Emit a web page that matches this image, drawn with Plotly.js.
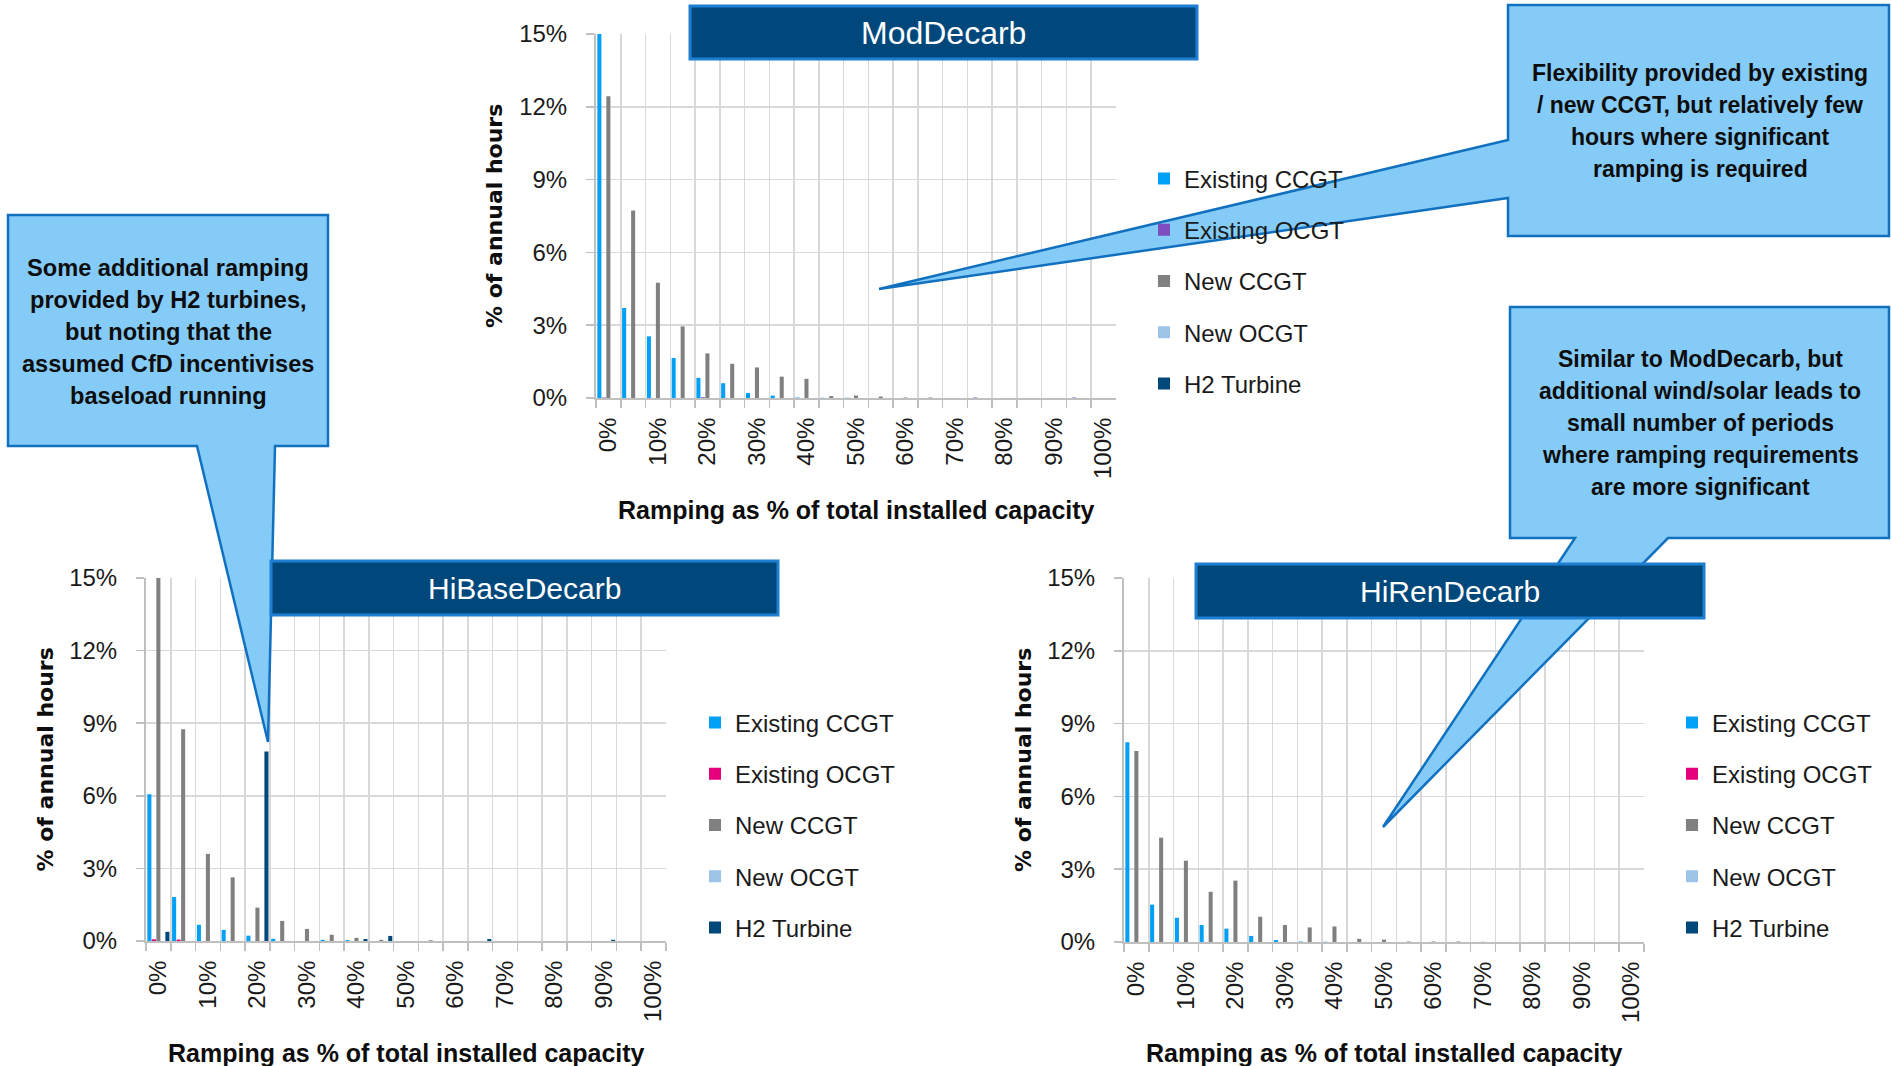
<!DOCTYPE html>
<html>
<head>
<meta charset="utf-8">
<script src="https://cdn.plot.ly/plotly-3.0.1.min.js"></script>
<style>
  html, body { margin: 0; padding: 0; background: #ffffff; }
  #chart { width: 1891px; height: 1066px; }
</style>
</head>
<body>
<div id="chart"></div>
<script>
// ---------------- DATA ----------------
const ramp = ['0%','5%','10%','15%','20%','25%','30%','35%','40%','45%','50%',
              '55%','60%','65%','70%','75%','80%','85%','90%','95%','100%'];
const seriesNames = ['Existing CCGT','Existing OCGT','New CCGT','New OCGT','H2 Turbine'];
const yTickValues = [0, 3, 6, 9, 12, 15];
const scenarioTitles = ['ModDecarb', 'HiBaseDecarb', 'HiRenDecarb'];

// ModDecarb (% of annual hours)
const modExistingCCGT = [15, 3.71, 2.54, 1.65, 0.83, 0.61, 0.21, 0.10, 0.02, 0.01, 0.01, 0, 0, 0, 0, 0, 0, 0, 0, 0, 0];
const modExistingOCGT = [0.02, 0, 0, 0, 0.03, 0, 0, 0, 0, 0, 0, 0, 0, 0, 0, 0.02, 0, 0, 0, 0.02, 0];
const modNewCCGT      = [12.43, 7.73, 4.75, 2.95, 1.84, 1.41, 1.26, 0.88, 0.79, 0.08, 0.10, 0.06, 0.02, 0.02, 0, 0, 0, 0, 0, 0, 0];
const modNewOCGT      = [0, 0, 0, 0, 0, 0, 0, 0, 0, 0, 0, 0, 0, 0, 0, 0, 0, 0, 0, 0, 0];
const modH2Turbine    = [0, 0, 0, 0, 0, 0, 0, 0, 0, 0, 0, 0, 0, 0, 0, 0, 0, 0, 0, 0, 0];

// HiBaseDecarb
const hiBaseExistingCCGT = [6.06, 1.82, 0.67, 0.46, 0.22, 0.09, 0, 0.05, 0.04, 0, 0, 0, 0, 0, 0, 0, 0, 0, 0, 0, 0];
const hiBaseExistingOCGT = [0.07, 0.06, 0, 0, 0, 0, 0, 0, 0, 0, 0, 0, 0, 0, 0, 0, 0, 0, 0, 0, 0];
const hiBaseNewCCGT      = [15, 8.75, 3.60, 2.63, 1.38, 0.83, 0.50, 0.26, 0.13, 0.05, 0, 0.03, 0, 0, 0, 0, 0, 0, 0, 0, 0];
const hiBaseNewOCGT      = [0, 0, 0, 0, 0, 0, 0, 0, 0, 0, 0, 0, 0, 0, 0, 0, 0, 0, 0, 0, 0];
const hiBaseH2Turbine    = [0.38, 0, 0, 0, 7.83, 0, 0, 0, 0.08, 0.21, 0, 0, 0, 0.08, 0, 0, 0, 0, 0.05, 0, 0];

// HiRenDecarb
const hiRenExistingCCGT = [8.23, 1.54, 1.00, 0.70, 0.55, 0.25, 0.08, 0.02, 0.01, 0, 0, 0, 0, 0, 0, 0, 0, 0, 0, 0, 0];
const hiRenExistingOCGT = [0, 0, 0, 0, 0, 0, 0, 0, 0, 0, 0, 0, 0, 0, 0, 0, 0, 0, 0, 0, 0];
const hiRenNewCCGT      = [7.87, 4.30, 3.35, 2.07, 2.53, 1.04, 0.70, 0.60, 0.64, 0.13, 0.10, 0.02, 0.02, 0.02, 0.01, 0, 0, 0, 0, 0, 0];
const hiRenNewOCGT      = [0, 0, 0, 0, 0, 0, 0, 0, 0, 0, 0, 0, 0, 0, 0, 0, 0, 0, 0, 0, 0];
const hiRenH2Turbine    = [0, 0, 0, 0, 0, 0, 0, 0, 0, 0, 0, 0, 0, 0, 0, 0, 0, 0, 0, 0, 0];

const calloutLeft = ['Some additional ramping', 'provided by H2 turbines,', 'but noting that the',
                     'assumed CfD incentivises', 'baseload running'];
const calloutTop = ['Flexibility provided by existing', '/ new CCGT, but relatively few',
                    'hours where significant', 'ramping is required'];
const calloutMid = ['Similar to ModDecarb, but', 'additional wind/solar leads to', 'small number of periods',
                    'where ramping requirements', 'are more significant'];
const xTitle = 'Ramping as % of total installed capacity';
const yTitle = '% of annual hours';

// ---------------- STYLE / LAYOUT HELPERS ----------------
const W = 1891, H = 1066;
const px = x => x / W;
const py = y => 1 - y / H;
const FONT = '"Liberation Sans", Arial, sans-serif';
const FONT_Y = '"DejaVu Sans", Verdana, sans-serif';

const colors = ['#00A0F6', '#E5007D', '#808080', '#9DC3E6', '#00487A'];
const colorsMod = ['#00A0F6', '#7D4CBF', '#808080', '#9DC3E6', '#00487A'];

const rampLabels = ramp.map((r, i) => (i % 2 === 0 ? r : ''));
const yTickText = yTickValues.map(v => v + '%');

const panels = [
  { key: '',  box: {x0: 596,  x1: 1116, y0: 34,  y1: 398}, legend: 'legend',  leg: {x: 1144, y: 156.5},
    data: [modExistingCCGT, modExistingOCGT, modNewCCGT, modNewOCGT, modH2Turbine], cols: colorsMod,
    titleBox: {x0: 690, x1: 1197, y0: 6, y1: 59}, titleSize: 32, yTitleX: 495, xTitleY: 510 },
  { key: '2', box: {x0: 146,  x1: 666,  y0: 578, y1: 941}, legend: 'legend2', leg: {x: 695, y: 700.5},
    data: [hiBaseExistingCCGT, hiBaseExistingOCGT, hiBaseNewCCGT, hiBaseNewOCGT, hiBaseH2Turbine], cols: colors,
    titleBox: {x0: 271, x1: 778, y0: 561, y1: 615}, titleSize: 30, yTitleX: 45, xTitleY: 1053 },
  { key: '3', box: {x0: 1124, x1: 1644, y0: 578, y1: 942}, legend: 'legend3', leg: {x: 1672, y: 700.5},
    data: [hiRenExistingCCGT, hiRenExistingOCGT, hiRenNewCCGT, hiRenNewOCGT, hiRenH2Turbine], cols: colors,
    titleBox: {x0: 1196, x1: 1704, y0: 564, y1: 618}, titleSize: 30, yTitleX: 1023, xTitleY: 1053 }
];

const traces = [];
const layout = {
  width: W, height: H,
  margin: {l: 0, r: 0, t: 0, b: 0, pad: 0},
  paper_bgcolor: '#ffffff', plot_bgcolor: '#ffffff',
  barmode: 'group', bargap: 0.09, bargroupgap: 0.1,
  showlegend: true,
  shapes: [], annotations: []
};

panels.forEach((p, pi) => {
  const xa = 'x' + p.key, ya = 'y' + p.key;
  p.data.forEach((vals, si) => {
    traces.push({
      type: 'bar', name: seriesNames[si], x: ramp, y: vals,
      xaxis: xa, yaxis: ya, legend: p.legend,
      legendgroup: 'g' + pi + '_' + si,
      marker: {color: p.cols[si], line: {width: 0}},
      hoverinfo: 'skip'
    });
  });
  layout['xaxis' + p.key] = {
    domain: [px(p.box.x0), px(p.box.x1)], anchor: ya,
    type: 'category', categoryorder: 'array', categoryarray: ramp,
    tickmode: 'array', tickvals: ramp, ticktext: rampLabels,
    tickson: 'boundaries', ticks: 'outside', ticklen: 8, tickwidth: 1.5, tickcolor: '#BFBFBF',
    showgrid: true, gridcolor: '#D9D9D9', gridwidth: 1.5,
    showline: true, linecolor: '#BFBFBF', linewidth: 2,
    tickangle: -90, ticklabelstandoff: 8,
    tickfont: {family: FONT, size: 24, color: '#1a1a1a'},
    range: [-0.5, ramp.length - 0.5], fixedrange: true, zeroline: false
  };
  layout['yaxis' + p.key] = {
    domain: [py(p.box.y1), py(p.box.y0)], anchor: xa,
    range: [0, 15], tickmode: 'array', tickvals: yTickValues, ticktext: yTickText,
    ticks: 'outside', ticklen: 8, tickwidth: 1.5, tickcolor: '#BFBFBF',
    showgrid: true, gridcolor: '#D9D9D9', gridwidth: 1.5,
    showline: true, linecolor: '#BFBFBF', linewidth: 2,
    ticklabelstandoff: 14,
    tickfont: {family: FONT, size: 24, color: '#1a1a1a'},
    fixedrange: true, zeroline: false
  };
  layout[p.legend] = {
    x: px(p.leg.x), y: py(p.leg.y), xanchor: 'left', yanchor: 'top',
    bgcolor: 'rgba(0,0,0,0)', borderwidth: 0, tracegroupgap: 17,
    font: {family: FONT, size: 24, color: '#1a1a1a'}
  };
  // axis titles
  const cx = (p.box.x0 + p.box.x1) / 2, cy = (p.box.y0 + p.box.y1) / 2;
  layout.annotations.push({
    xref: 'paper', yref: 'paper', x: px(cx), y: py(p.xTitleY), xanchor: 'center', yanchor: 'middle',
    text: xTitle, showarrow: false, font: {family: FONT, size: 25, color: '#0d0d0d', weight: 'bold'}
  });
  layout.annotations.push({
    xref: 'paper', yref: 'paper', x: px(p.yTitleX), y: py(cy), xanchor: 'center', yanchor: 'middle',
    text: yTitle, textangle: -90, showarrow: false, font: {family: FONT_Y, size: 22, color: '#0d0d0d', weight: 'bold'}
  });
});

// ---------------- CALLOUTS (drawn first, under title boxes) ----------------
function pathFrom(points) {
  return 'M' + points.map(pt => px(pt[0]) + ',' + py(pt[1])).join(' L') + ' Z';
}
const calloutStyle = {type: 'path', xref: 'paper', yref: 'paper', layer: 'above',
  fillcolor: '#85CBF8', line: {color: '#1271BF', width: 2.5}};
layout.shapes.push(Object.assign({}, calloutStyle, {path: pathFrom(
  [[1508,5],[1889,5],[1889,236],[1508,236],[1508,198],[879,289],[1508,140]])}));
layout.shapes.push(Object.assign({}, calloutStyle, {path: pathFrom(
  [[1510,307],[1889,307],[1889,538],[1668,538],[1383,827],[1575,538],[1510,538]])}));
layout.shapes.push(Object.assign({}, calloutStyle, {path: pathFrom(
  [[8,215],[328,215],[328,446],[275,446],[268,742],[197,446],[8,446]])}));

function addLines(lines, cx, cy, spacing, size) {
  const n = lines.length;
  lines.forEach((t, i) => {
    layout.annotations.push({xref: 'paper', yref: 'paper', x: px(cx), y: py(cy + (i - (n - 1) / 2) * spacing),
      xanchor: 'center', yanchor: 'middle', text: t, showarrow: false,
      font: {family: FONT, size: size, color: '#0d0d0d', weight: 'bold'}});
  });
}
addLines(calloutLeft, 168, 332, 32, 23.6);
addLines(calloutTop, 1700, 121, 31.7, 23);
addLines(calloutMid, 1700, 423, 32, 23);

// ---------------- TITLE BOXES ----------------
panels.forEach((p, pi) => {
  const b = p.titleBox;
  layout.shapes.push({type: 'rect', xref: 'paper', yref: 'paper', layer: 'above',
    x0: px(b.x0), x1: px(b.x1), y0: py(b.y1), y1: py(b.y0),
    fillcolor: '#00487C', line: {color: '#1E7FD2', width: 3}});
  layout.annotations.push({xref: 'paper', yref: 'paper',
    x: px((b.x0 + b.x1) / 2), y: py((b.y0 + b.y1) / 2), xanchor: 'center', yanchor: 'middle',
    text: scenarioTitles[pi], showarrow: false, font: {family: FONT, size: p.titleSize, color: '#ffffff'}});
});

Plotly.newPlot('chart', traces, layout, {displayModeBar: false, staticPlot: true});
</script>
</body>
</html>
